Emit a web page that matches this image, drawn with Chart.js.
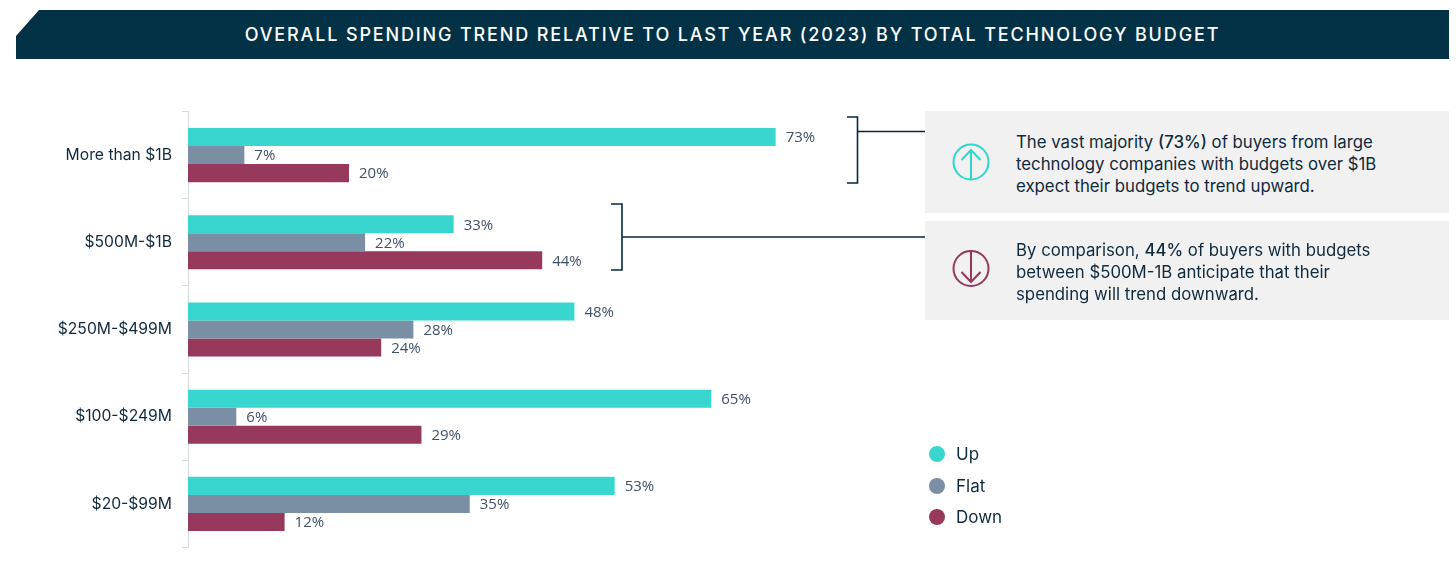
<!DOCTYPE html>
<html>
<head>
<meta charset="utf-8">
<title>Overall spending trend</title>
<script src="https://cdn.jsdelivr.net/npm/chart.js@4"></script>
<style>
  html, body { margin: 0; padding: 0; background: #fff; }
  #page { position: relative; width: 1456px; height: 582px; overflow: hidden; font-family: Inter, "Noto Sans", sans-serif; color: #0f2a3d; }
  #chart { position: absolute; left: 0; top: 0; }
  #banner { position: absolute; left: 16px; top: 10px; width: 1433px; height: 49px; background: #033246; color: #fff;
    clip-path: polygon(23px 0, 100% 0, 100% 100%, 0 100%, 0 26px);
    text-align: center; line-height: 50px; font-size: 18px; font-weight: 500; letter-spacing: 1.85px; }
  .panel { position: absolute; left: 925px; width: 524px; background: #f1f1f1; }
  .panel p { position: absolute; left: 91px; margin: 0; font-size: 16.8px; line-height: 22px; white-space: nowrap; }
  .panel b { font-weight: 500; }
  .legend-item { position: absolute; left: 929px; height: 20px; line-height: 20px; font-size: 17px; white-space: nowrap; }
  .legend-item i { position: absolute; left: 0; top: 2px; width: 16px; height: 16px; border-radius: 50%; }
  .legend-item span { position: absolute; left: 27px; }
  svg { position: absolute; left: 0; top: 0; pointer-events: none; }
</style>
</head>
<body>
<div id="page">
  <canvas id="chart" width="1456" height="582"></canvas>
  <div id="banner">OVERALL SPENDING TREND RELATIVE TO LAST YEAR (2023) BY TOTAL TECHNOLOGY BUDGET</div>
  <div class="panel" style="top:111px;height:102px"><p style="top:20px">The vast majority <b>(73%)</b> of buyers from large<br>technology companies with budgets over $1B<br>expect their budgets to trend upward.</p></div>
  <div class="panel" style="top:221px;height:99px"><p style="top:18px">By comparison, <b>44%</b> of buyers with budgets<br>between $500M-1B anticipate that their<br>spending will trend downward.</p></div>
  <svg width="1456" height="582" fill="none">
    <g stroke="#07293f" stroke-width="1.6">
      <path d="M847 117H857.5V183H847M858 131.5H925"/>
      <path d="M611 204H622V270H611M622 237H925"/>
    </g>
    <g stroke="#2fd6cd" stroke-width="2">
      <circle cx="971" cy="162" r="17.5"/>
      <path d="M971 179V150M961.5 160L971 150L980.5 160"/>
    </g>
    <g stroke="#96385b" stroke-width="2">
      <circle cx="971" cy="268.5" r="17.5"/>
      <path d="M971 252V282M961.5 272L971 282L980.5 272"/>
    </g>
  </svg>
  <div id="legend"></div>
</div>
<script>
const categories = ["More than $1B", "$500M-$1B", "$250M-$499M", "$100-$249M", "$20-$99M"];
const upValues = [73, 33, 48, 65, 53];
const flatValues = [7, 22, 28, 6, 35];
const downValues = [20, 44, 24, 29, 12];
const seriesNames = ["Up", "Flat", "Down"];
const seriesColors = ["#39d6cf", "#7a8fa3", "#96395c"];

// percent labels just past the end of each bar
const barLabels = {
  id: "barLabels",
  afterDatasetsDraw(chart) {
    const ctx = chart.ctx;
    ctx.save();
    ctx.font = '15px "Open Sans"';
    ctx.fillStyle = "#3f5068";
    ctx.textBaseline = "middle";
    chart.data.datasets.forEach((ds, i) => {
      chart.getDatasetMeta(i).data.forEach((bar, j) => {
        ctx.fillText(ds.data[j] + "%", bar.x + 10, bar.y + 1);
      });
    });
    ctx.restore();
  }
};

new Chart(document.getElementById("chart"), {
  type: "bar",
  data: {
    labels: categories,
    datasets: [
      { label: seriesNames[0], data: upValues, backgroundColor: seriesColors[0] },
      { label: seriesNames[1], data: flatValues, backgroundColor: seriesColors[1] },
      { label: seriesNames[2], data: downValues, backgroundColor: seriesColors[2] }
    ]
  },
  options: {
    indexAxis: "y",
    responsive: false,
    animation: false,
    barPercentage: 1,
    categoryPercentage: 0.62,
    layout: { padding: { top: 111.5, bottom: 34.5, left: 0, right: 463 } },
    plugins: { legend: { display: false }, tooltip: { enabled: false } },
    scales: {
      x: { display: false, min: 0, max: 100 },
      y: {
        afterFit(axis) { axis.width = 188; },
        grid: { drawOnChartArea: false, color: "#d5dae6", tickLength: 6 },
        border: { color: "#d5dae6" },
        ticks: { color: "#0f2a3d", padding: 10, font: { family: "Inter", size: 15.7 } }
      }
    }
  },
  plugins: [barLabels]
});

// legend sits apart from the plot, next to the panels
const legendTops = [444, 476, 507];
seriesNames.forEach((name, i) => {
  const el = document.createElement("div");
  el.className = "legend-item";
  el.style.top = legendTops[i] + "px";
  el.innerHTML = '<i style="background:' + seriesColors[i] + '"></i><span>' + name + "</span>";
  document.getElementById("legend").appendChild(el);
});
</script>
</body>
</html>
